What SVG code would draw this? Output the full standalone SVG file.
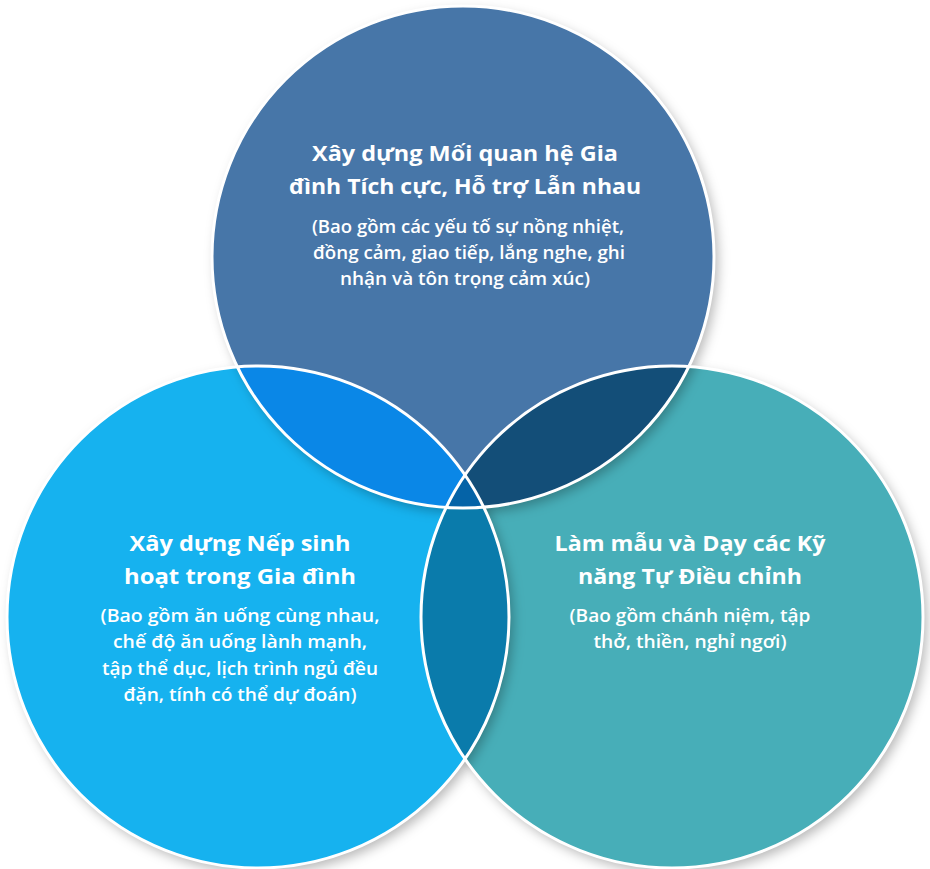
<svg xmlns="http://www.w3.org/2000/svg" width="930" height="869" viewBox="0 0 930 869">
  <defs>
    <filter id="shadow" x="-10%" y="-10%" width="125%" height="125%">
      <feDropShadow dx="4" dy="5" stdDeviation="6" flood-color="#000" flood-opacity="0.28"/>
    </filter>
    <clipPath id="clipTop"><circle cx="463" cy="257" r="251"/></clipPath>
    <clipPath id="clipLeft"><circle cx="258" cy="616" r="251"/></clipPath>
    <clipPath id="clipRight"><circle cx="672" cy="616" r="251"/></clipPath>
    <style>
      .title { font-family: "Open Sans", "Noto Sans", sans-serif; font-weight: 700; font-size: 21.5px; fill: #ffffff; text-anchor: middle; }
      .sub { font-family: "Open Sans", "Noto Sans", sans-serif; font-weight: 600; font-size: 18px; fill: #ffffff; text-anchor: middle; }
      .ring { fill: none; stroke: #ffffff; stroke-width: 3; }
    </style>
  </defs>

  <rect width="930" height="869" fill="#ffffff"/>

  <!-- base circles, each casting a soft shadow -->
  <circle cx="672" cy="617" r="251" fill="#47aeb8" filter="url(#shadow)"/>
  <circle cx="258" cy="617" r="251" fill="#18b2ef" filter="url(#shadow)"/>
  <circle cx="463" cy="257" r="251" fill="#4676a8" filter="url(#shadow)"/>

  <!-- pairwise overlaps -->
  <circle cx="258" cy="617" r="251" fill="#0a87e7" clip-path="url(#clipTop)"/>
  <circle cx="672" cy="617" r="251" fill="#134e78" clip-path="url(#clipTop)"/>
  <circle cx="672" cy="617" r="251" fill="#0a7bab" clip-path="url(#clipLeft)"/>
  <!-- triple overlap -->
  <g clip-path="url(#clipTop)">
    <circle cx="672" cy="617" r="251" fill="#0563a7" clip-path="url(#clipLeft)"/>
  </g>

  <!-- white outlines -->
  <circle class="ring" cx="672" cy="617" r="251"/>
  <circle class="ring" cx="258" cy="617" r="251"/>
  <circle class="ring" cx="463" cy="257" r="251"/>

  <g id="node-relationships">
    <text class="title" x="465" y="161" textLength="306" lengthAdjust="spacingAndGlyphs">Xây dựng Mối quan hệ Gia</text>
    <text class="title" x="465" y="194" textLength="352" lengthAdjust="spacingAndGlyphs">đình Tích cực, Hỗ trợ Lẫn nhau</text>
    <text class="sub" x="468" y="233" textLength="312" lengthAdjust="spacingAndGlyphs">(Bao gồm các yếu tố sự nồng nhiệt,</text>
    <text class="sub" x="469" y="259" textLength="312" lengthAdjust="spacingAndGlyphs">đồng cảm, giao tiếp, lắng nghe, ghi</text>
    <text class="sub" x="465" y="285" textLength="250" lengthAdjust="spacingAndGlyphs">nhận và tôn trọng cảm xúc)</text>
  </g>

  <g id="node-routines">
    <text class="title" x="240" y="551" textLength="221" lengthAdjust="spacingAndGlyphs">Xây dựng Nếp sinh</text>
    <text class="title" x="240" y="584" textLength="232" lengthAdjust="spacingAndGlyphs">hoạt trong Gia đình</text>
    <text class="sub" x="240" y="622" textLength="279" lengthAdjust="spacingAndGlyphs">(Bao gồm ăn uống cùng nhau,</text>
    <text class="sub" x="240" y="648" textLength="254" lengthAdjust="spacingAndGlyphs">chế độ ăn uống lành mạnh,</text>
    <text class="sub" x="240" y="675" textLength="276" lengthAdjust="spacingAndGlyphs">tập thể dục, lịch trình ngủ đều</text>
    <text class="sub" x="240" y="701" textLength="233" lengthAdjust="spacingAndGlyphs">đặn, tính có thể dự đoán)</text>
  </g>

  <g id="node-self-regulation">
    <text class="title" x="690" y="551" textLength="271" lengthAdjust="spacingAndGlyphs">Làm mẫu và Dạy các Kỹ</text>
    <text class="title" x="690" y="584" textLength="224" lengthAdjust="spacingAndGlyphs">năng Tự Điều chỉnh</text>
    <text class="sub" x="690" y="622" textLength="241" lengthAdjust="spacingAndGlyphs">(Bao gồm chánh niệm, tập</text>
    <text class="sub" x="690" y="648" textLength="193" lengthAdjust="spacingAndGlyphs">thở, thiền, nghỉ ngơi)</text>
  </g>

  <g id="connectors"></g>
</svg>
